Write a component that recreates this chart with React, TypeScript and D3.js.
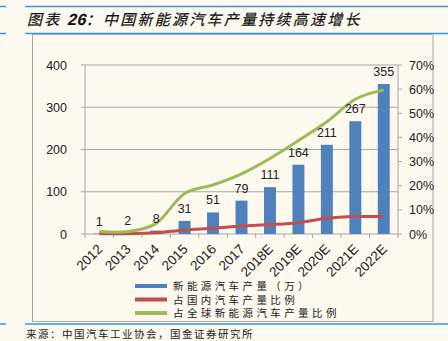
import React from "react";
import * as d3 from "d3";

const categories = ["2012", "2013", "2014", "2015", "2016", "2017", "2018E", "2019E", "2020E", "2021E", "2022E"];
const production = [1, 2, 8, 31, 51, 79, 111, 164, 211, 267, 355];
const domesticShare = [0.1, 0.1, 0.5, 1.7, 2.4, 3.3, 3.9, 4.7, 6.5, 7.2, 7.2];
const globalShare = [1, 1, 4.4, 16.8, 20.3, 24.9, 31.3, 38.7, 46.5, 55.8, 59.7];
const leftTicks = [0, 100, 200, 300, 400];
const rightTicks = [0, 10, 20, 30, 40, 50, 60, 70];
const legendLabels = ["新能源汽车产量（万）", "占国内汽车产量比例", "占全球新能源汽车产量比例"];

const W = 448, H = 341;
const BG = "#fdf9ef";
const BLUE = "#4f81bd", RED = "#c0504d", GREEN = "#9bbb59";
const FONT = "'Liberation Sans', Arial, sans-serif";
const CJK = "'Noto Sans CJK SC', sans-serif";

export default function App() {
  const x0 = 85, x1 = 398, yTop = 65, yBot = 234;
  const x = d3.scaleBand<string>().domain(categories).range([x0, x1]).paddingInner(0.58).paddingOuter(0.29);
  const xc = (c: string) => (x(c) as number) + x.bandwidth() / 2;
  const step = x.step();
  const yL = d3.scaleLinear().domain([0, 400]).range([yBot, yTop]);
  const yR = d3.scaleLinear().domain([0, 70]).range([yBot, yTop]);
  const line = (vals: number[]) =>
    d3.line<number>().x((_, i) => xc(categories[i])).y((v) => yR(v)).curve(d3.curveCatmullRom.alpha(0.2))(vals) as string;
  const legendColors = [BLUE, RED, GREEN];

  return (
    <svg width={W} height={H} style={{ position: "absolute", left: 0, top: 0, background: BG }}>
      <rect x={0} y={0} width={W} height={H} fill={BG} />
      {/* header lines */}
      <line x1={0} x2={6} y1={6.5} y2={6.5} stroke="#2e9be0" strokeWidth={1.5} />
      <line x1={25} x2={W} y1={6.5} y2={6.5} stroke="#2e9be0" strokeWidth={1.5} />
      <g transform="translate(27,25) skewX(-14)">
        <text x={0} y={0} fontFamily={CJK} fontSize={15} letterSpacing={2.25} fill="#111" stroke="#111" strokeWidth={0.2}>
          图表 <tspan fontFamily={FONT} fontWeight="bold" fontSize={16} letterSpacing={0.5}>26</tspan>：中国新能源汽车产量持续高速增长
        </text>
      </g>
      <line x1={0} x2={6} y1={33.5} y2={33.5} stroke="#2e9be0" strokeWidth={1.5} />
      <line x1={25} x2={W} y1={33.5} y2={33.5} stroke="#2e9be0" strokeWidth={1.5} />
      {/* frame */}
      <rect x={32.5} y={34.5} width={400.5} height={287} fill="none" stroke="#a6a6a6" strokeWidth={1} />
      {/* grid */}
      {leftTicks.map((t) => (
        <g key={t}>
          <line x1={x0} x2={x1} y1={yL(t)} y2={yL(t)} stroke="#a6a6a6" strokeWidth={1} />
          <line x1={x0 - 4} x2={x0} y1={yL(t)} y2={yL(t)} stroke="#a6a6a6" />
          <text x={67} y={yL(t) + 4.5} textAnchor="end" fontFamily={FONT} fontSize={12.5} fill="#222">{t}</text>
        </g>
      ))}
      <line x1={x0} x2={x0} y1={yTop} y2={yBot} stroke="#a6a6a6" />
      <line x1={x1} x2={x1} y1={yTop} y2={yBot} stroke="#a6a6a6" />
      {rightTicks.map((t) => (
        <g key={t}>
          <line x1={x1} x2={x1 + 4} y1={yR(t)} y2={yR(t)} stroke="#a6a6a6" />
          <text x={409} y={yR(t) + 4.5} fontFamily={FONT} fontSize={12.5} fill="#222">{t}%</text>
        </g>
      ))}
      {/* x ticks */}
      {categories.map((c, i) => (
        <line key={c} x1={x0 + i * step} x2={x0 + i * step} y1={yBot} y2={yBot + 4} stroke="#a6a6a6" />
      ))}
      <line x1={x1} x2={x1} y1={yBot} y2={yBot + 4} stroke="#a6a6a6" />
      {/* bars */}
      {categories.map((c, i) => (
        <rect key={c} x={x(c)} y={yL(production[i])} width={x.bandwidth()} height={yBot - yL(production[i])} fill={BLUE} />
      ))}
      <path d={line(domesticShare)} fill="none" stroke={RED} strokeWidth={3} />
      <path d={line(globalShare)} fill="none" stroke={GREEN} strokeWidth={3} />
      {categories.map((c, i) => (
        <text key={c} x={xc(c)} y={yL(production[i]) - 8} textAnchor="middle" fontFamily={FONT} fontSize={12.5} fill="#222">
          {production[i]}
        </text>
      ))}
      {/* x labels */}
      {categories.map((c) => (
        <text key={c} transform={`translate(${xc(c) + 4},${yBot + 16}) rotate(-45)`} textAnchor="end"
          fontFamily={FONT} fontSize={13.5} fill="#222">{c}</text>
      ))}
      {/* legend */}
      {legendLabels.map((l, i) => (
        <g key={l}>
          <line x1={135} x2={167} y1={286 + i * 13.5} y2={286 + i * 13.5} stroke={legendColors[i]} strokeWidth={4} />
          <text x={173} y={290 + i * 13.5} fontFamily={CJK} fontSize={10.5} letterSpacing={3.4} fill="#222">{l}</text>
        </g>
      ))}
      <line x1={0} x2={6} y1={324} y2={324} stroke="#2e9be0" strokeWidth={1.5} />
      <line x1={25} x2={W} y1={324} y2={324} stroke="#2e9be0" strokeWidth={1.5} />
      <text x={26} y={338} fontFamily={CJK} fontSize={10.5} letterSpacing={1.5} fill="#222">来源：中国汽车工业协会，国金证券研究所</text>
    </svg>
  );
}
